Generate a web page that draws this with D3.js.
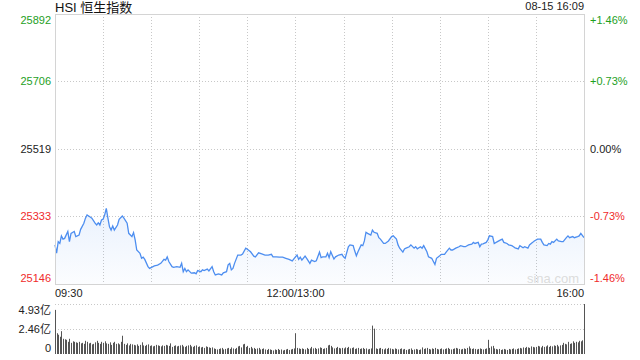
<!DOCTYPE html>
<html>
<head>
<meta charset="utf-8">
<script src="https://cdn.jsdelivr.net/npm/d3@7"></script>
<style>
  body { margin: 0; background: #fff; }
  svg text { font-family: "Liberation Sans", Arial, "Noto Sans CJK SC", sans-serif; }
</style>
</head>
<body>
<div class="hsiChart"></div>
<script>
// HSI intraday, trading minutes counted from 09:30 (lunch break collapsed: 12:00 == 13:00 == 150)
var minutes = [0,1,2,3,4,5,6,8,9,10,12,13,15,16,18,19,20,21,23,25,26,27,28,29,30,31,32,33,34,35,36,37,39,40,42,43,45,46,48,49,50,51,53,54,55,56,58,59,62,64,66,68,69,70,71,73,74,76,78,79,80,81,82,83,85,87,88,89,91,92,93,95,96,98,99,100,102,104,105,107,108,109,110,111,112,114,116,117,119,120,122,124,125,127,129,131,133,135,136,138,140,142,144,146,148,150,151,152,153,154,156,157,159,160,162,163,165,166,167,169,170,171,172,174,175,177,179,180,181,183,184,186,187,188,189,191,192,193,194,195,197,198,199,201,202,203,205,206,208,210,211,213,214,215,217,218,219,221,222,224,225,226,228,229,230,232,233,235,237,238,240,241,243,244,246,247,248,250,252,253,255,256,258,260,261,262,264,265,266,267,269,270,271,273,274,276,278,279,280,282,283,285,286,287,289,290,292,293,295,296,298,299,301,303,304,305,307,308,309,310,311,313,314,316,317,319,320,321,323,324,326,327,328,330];
var prices = [25254,25231,25263,25258,25279,25270,25272,25291,25263,25286,25291,25277,25281,25297,25314,25328,25337,25334,25328,25314,25309,25315,25309,25323,25325,25337,25355,25328,25304,25295,25306,25295,25309,25325,25334,25328,25314,25286,25277,25288,25268,25240,25231,25217,25220,25214,25194,25189,25196,25198,25203,25214,25212,25221,25208,25194,25192,25194,25192,25203,25180,25189,25180,25185,25176,25177,25174,25183,25180,25185,25183,25187,25182,25194,25180,25171,25174,25171,25177,25180,25199,25203,25185,25189,25203,25226,25226,25229,25245,25242,25235,25223,25221,25232,25229,25226,25226,25228,25221,25221,25220,25220,25217,25214,25210,25221,25226,25214,25220,25212,25223,25217,25203,25212,25208,25210,25234,25219,25221,25221,25231,25219,25235,25215,25221,25226,25228,25221,25217,25249,25254,25252,25237,25224,25235,25254,25252,25265,25289,25286,25281,25295,25289,25286,25274,25270,25258,25258,25265,25277,25279,25270,25254,25245,25234,25243,25245,25249,25254,25245,25249,25243,25249,25245,25252,25235,25221,25217,25200,25217,25224,25228,25228,25234,25245,25240,25240,25245,25249,25252,25249,25249,25254,25256,25261,25258,25261,25249,25256,25257,25261,25268,25279,25277,25258,25263,25268,25270,25261,25258,25254,25252,25249,25246,25243,25252,25246,25249,25245,25254,25261,25265,25270,25270,25261,25254,25252,25258,25256,25263,25261,25270,25265,25263,25263,25274,25279,25274,25277,25274,25277,25279,25286,25274];

// turnover per minute, 亿
var volumes = [
  4.35,2.05,1.9,1.7,2.25,1.5,1.45,1.4,1.2,1.5,
  1.1,1.25,1.2,1.15,1.1,1.2,1.05,1.1,1.0,1.3,
  1.2,1.05,1.1,0.95,1.0,1.15,1.3,1.1,1.0,1.2,
  1.1,1.25,1.05,1.0,1.15,0.9,1.1,1.2,1.0,1.05,
  0.95,1.2,1.8,1.0,0.9,1.05,0.85,1.0,0.95,0.9,
  0.85,0.95,0.8,0.9,1.15,0.85,0.8,0.9,0.95,0.8,
  0.85,0.75,0.8,0.9,0.85,0.8,0.75,0.85,0.8,0.9,
  0.85,0.8,1.05,0.7,0.8,0.85,0.75,0.8,0.85,0.9,
  0.75,0.7,0.8,0.85,0.9,0.75,0.7,0.8,0.85,0.7,
  0.75,0.65,0.7,0.6,0.75,0.7,0.65,0.6,0.65,0.55,
  0.5,0.45,0.5,0.55,0.6,0.45,0.5,0.55,0.6,0.5,
  0.65,0.55,0.5,0.6,0.75,0.8,0.65,0.95,1.0,0.7,
  0.8,0.6,0.7,0.55,0.6,0.5,0.55,0.6,0.45,0.5,
  0.55,0.45,0.4,0.5,0.45,0.4,0.35,0.45,0.4,0.5,
  0.4,0.45,0.35,0.4,0.45,0.5,0.4,0.45,0.5,0.55,
  2.05,0.6,0.55,0.5,0.55,0.5,0.45,0.6,0.5,0.55,
  0.7,0.55,0.6,0.5,0.55,0.65,0.6,0.5,0.55,0.6,
  0.85,0.9,0.8,0.65,0.55,0.6,0.7,0.6,0.55,0.6,
  0.55,0.65,0.6,0.7,0.55,0.6,0.65,0.5,0.55,0.6,
  0.5,0.55,0.6,0.5,0.55,0.45,0.5,0.55,2.8,2.5,
  0.55,0.5,0.55,0.6,0.5,0.45,0.55,0.5,0.6,0.55,
  0.5,0.45,0.55,0.5,0.45,0.5,0.55,0.45,0.5,0.4,
  0.45,0.5,0.55,0.4,0.45,0.5,0.45,0.4,0.45,0.65,
  0.5,0.55,0.6,0.5,0.45,0.55,0.5,0.6,0.5,0.45,
  0.5,0.55,0.45,0.5,0.55,0.6,0.5,0.45,0.5,0.55,
  0.6,0.55,0.5,0.45,0.5,0.55,0.5,0.6,0.75,0.55,
  0.5,0.55,0.5,0.45,0.5,0.55,0.5,0.45,0.5,0.55,
  1.4,0.6,0.75,0.8,0.55,0.5,0.45,0.5,0.4,0.45,
  0.5,0.45,0.4,0.5,0.45,0.5,0.55,0.45,0.5,0.55,
  0.6,0.55,0.65,0.6,0.7,0.65,0.6,0.75,0.7,0.65,
  0.7,0.8,0.75,0.65,0.8,0.7,0.75,0.85,0.7,0.8,
  0.75,0.85,0.8,0.9,0.75,0.85,0.9,1.1,1.0,0.95,
  1.2,1.0,1.05,1.25,1.1,1.2,1.15,1.3,1.25,1.35,
  4.93
];

var priceTicks = [25892, 25706, 25519, 25333, 25146];
var pctTicks = ['+1.46%', '+0.73%', '0.00%', '-0.73%', '-1.46%'];
var prevClose = 25519;
var volTicks = [4.93, 2.46, 0];
var volTickLabels = ['4.93亿', '2.46亿', '0'];
var timeTicks = [0, 150, 330];
var timeLabels = ['09:30', '12:00/13:00', '16:00'];

function hsiChart() {
    var width = 640, height = 360;
    var plotLeft = 55, plotRight = 584, plotTop = 14, plotBottom = 284;
    var volTop = 304, volBottom = 354;

    function colorFor(v) {
        if (v > prevClose) return '#1ea01e';
        if (v < prevClose) return '#f02b2b';
        return '#222';
    }

    function drawGraph() {
        var svg = d3.select('.hsiChart')
            .append('svg')
            .attr('width', width)
            .attr('height', height);

        var x = d3.scaleLinear().domain([0, 330]).range([plotLeft, plotRight]);
        var y = d3.scaleLinear().domain([25146, 25892]).range([plotBottom, plotTop]);
        var yv = d3.scaleLinear().domain([0, 4.93]).range([volBottom, volTop]);

        // gradient under the line
        var grad = svg.append('defs').append('linearGradient')
            .attr('id', 'areaFill').attr('x1', 0).attr('y1', 0).attr('x2', 0).attr('y2', 1);
        grad.append('stop').attr('offset', '0%').attr('stop-color', '#4d8ef0').attr('stop-opacity', 0.12);
        grad.append('stop').attr('offset', '100%').attr('stop-color', '#4d8ef0').attr('stop-opacity', 0.02);

        // dotted grid, price panel
        svg.selectAll('.hgrid')
            .data(priceTicks.slice(1, 4))
            .enter()
            .append('line')
            .attr('x1', plotLeft).attr('x2', plotRight)
            .attr('y1', function(d) { return Math.round(y(d)) + 0.5; })
            .attr('y2', function(d) { return Math.round(y(d)) + 0.5; })
            .attr('stroke', '#c8c8c8')
            .attr('stroke-dasharray', '1,2');

        svg.selectAll('.vgrid')
            .data(d3.range(30, 330, 30))
            .enter()
            .append('line')
            .attr('x1', function(d) { return Math.round(x(d)) + 0.5; })
            .attr('x2', function(d) { return Math.round(x(d)) + 0.5; })
            .attr('y1', plotTop).attr('y2', plotBottom)
            .attr('stroke', '#c8c8c8')
            .attr('stroke-dasharray', '1,2');

        // area + line
        var pts = minutes.map(function(m, i) { return [m, prices[i]]; });

        svg.append('path')
            .datum(pts)
            .attr('d', d3.area()
                .x(function(d) { return x(d[0]); })
                .y0(plotBottom)
                .y1(function(d) { return y(d[1]); }))
            .attr('fill', 'url(#areaFill)');

        svg.append('path')
            .datum(pts)
            .attr('d', d3.line()
                .x(function(d) { return x(d[0]); })
                .y(function(d) { return y(d[1]); }))
            .attr('fill', 'none')
            .attr('stroke', '#4d8ef0')
            .attr('stroke-width', 1.3);

        // frame
        svg.append('rect')
            .attr('x', plotLeft + 0.5).attr('y', plotTop + 0.5)
            .attr('width', plotRight - plotLeft).attr('height', plotBottom - plotTop)
            .attr('fill', 'none')
            .attr('stroke', '#d4d4d4');

        svg.append('text')
            .text('sina.com')
            .attr('x', 553).attr('y', 283)
            .attr('text-anchor', 'middle')
            .style('font-size', '13px')
            .style('fill', '#dcdcdc');

        // left price labels
        svg.selectAll('.plab')
            .data(priceTicks)
            .enter()
            .append('text')
            .text(function(d) { return d; })
            .attr('x', 51)
            .attr('y', function(d, i) {
                var yy = y(d) + 4;
                if (i == 0) yy += 6;
                if (i == priceTicks.length - 1) yy -= 6;
                return yy;
            })
            .attr('text-anchor', 'end')
            .style('font-size', '11px')
            .style('fill', function(d) { return colorFor(d); });

        // right percent labels
        svg.selectAll('.pctlab')
            .data(pctTicks)
            .enter()
            .append('text')
            .text(function(d) { return d; })
            .attr('x', 590)
            .attr('y', function(d, i) {
                var yy = y(priceTicks[i]) + 4;
                if (i == 0) yy += 6;
                if (i == pctTicks.length - 1) yy -= 6;
                return yy;
            })
            .style('font-size', '11px')
            .style('fill', function(d, i) { return colorFor(priceTicks[i]); });

        // time labels
        svg.selectAll('.tlab')
            .data(timeTicks)
            .enter()
            .append('text')
            .text(function(d, i) { return timeLabels[i]; })
            .attr('x', function(d) { return x(d); })
            .attr('y', 297)
            .attr('text-anchor', function(d, i) { return i == 0 ? 'start' : (i == 1 ? 'middle' : 'end'); })
            .style('font-size', '11px')
            .style('fill', '#222');

        // volume grid
        svg.selectAll('.vol-grid')
            .data(volTicks.slice(0, 2))
            .enter()
            .append('line')
            .attr('x1', plotLeft).attr('x2', plotRight)
            .attr('y1', function(d) { return Math.round(yv(d)) + 0.5; })
            .attr('y2', function(d) { return Math.round(yv(d)) + 0.5; })
            .attr('stroke', '#c8c8c8')
            .attr('stroke-dasharray', '1,2');

        // volume bars
        svg.selectAll('.vbar')
            .data(volumes)
            .enter()
            .append('rect')
            .attr('x', function(d, i) { return Math.round(x(i)); })
            .attr('y', function(d) { return yv(d); })
            .attr('width', 1)
            .attr('height', function(d) { return volBottom - yv(d); })
            .attr('fill', '#555');

        svg.selectAll('.vlab')
            .data(volTicks)
            .enter()
            .append('text')
            .text(function(d, i) { return volTickLabels[i]; })
            .attr('x', 51)
            .attr('y', function(d, i) {
                var yy = yv(d) + 4;
                if (i == 0) yy += 6;
                if (i == volTicks.length - 1) yy -= 6;
                return yy;
            })
            .attr('text-anchor', 'end')
            .style('font-size', '11px')
            .style('fill', '#222');

        // header
        svg.append('text')
            .text('HSI 恒生指数')
            .attr('x', 55).attr('y', 12)
            .style('font-size', '13px')
            .style('fill', '#111');

        svg.append('text')
            .text('08-15 16:09')
            .attr('x', 584).attr('y', 10)
            .attr('text-anchor', 'end')
            .style('font-size', '11px')
            .style('fill', '#222');
    }

    drawGraph();
}
hsiChart();
</script>
</body>
</html>
